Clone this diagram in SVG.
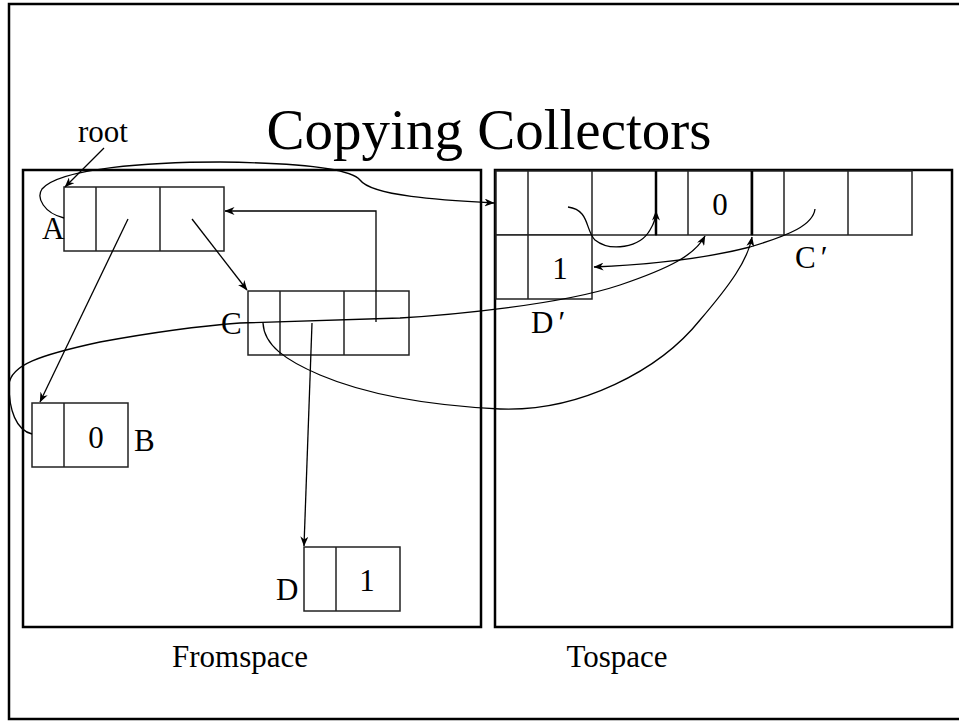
<svg xmlns="http://www.w3.org/2000/svg" width="959" height="721" viewBox="0 0 959 721">
<defs>
<marker id="ah" viewBox="0 0 10 8" refX="9.5" refY="4" markerWidth="10" markerHeight="8" markerUnits="userSpaceOnUse" orient="auto">
<path d="M0,0 L10,4 L0,8 L3,4 z" fill="#000"/>
</marker>
<style>
text{font-family:"Liberation Serif","Times New Roman",serif;fill:#000}
.lbl{font-size:31px}
.title{font-size:57px}
.cell{fill:#fff;stroke:#222;stroke-width:1.5}
.div{stroke:#222;stroke-width:1.5}
.space{fill:none;stroke:#000;stroke-width:2.5}
.con{fill:none;stroke:#000;stroke-width:1.3}
.arr{marker-end:url(#ah)}
</style>
</defs>
<rect x="0" y="0" width="959" height="721" fill="#fff"/>
<rect x="9" y="4" width="970" height="715" fill="none" stroke="#000" stroke-width="2.5"/>
<text class="title" x="489" y="149" text-anchor="middle">Copying Collectors</text>

<g id="fromspace">
<rect class="space" x="23" y="170" width="458" height="457"/>
<text class="lbl" x="240" y="667" text-anchor="middle">Fromspace</text>
</g>
<g id="tospace">
<rect class="space" x="495" y="170" width="457" height="457"/>
<text class="lbl" x="617" y="667" text-anchor="middle">Tospace</text>
</g>

<g id="nodeA">
<rect class="cell" x="64" y="187" width="160" height="64"/>
<line class="div" x1="96" y1="187" x2="96" y2="251"/>
<line class="div" x1="160" y1="187" x2="160" y2="251"/>
<text class="lbl" x="42" y="239">A</text>
</g>
<g id="nodeC">
<rect class="cell" x="248" y="291" width="161" height="64"/>
<line class="div" x1="280" y1="291" x2="280" y2="355"/>
<line class="div" x1="344" y1="291" x2="344" y2="355"/>
<text class="lbl" x="221" y="334">C</text>
</g>
<g id="nodeB">
<rect class="cell" x="32" y="403" width="96" height="64"/>
<line class="div" x1="64" y1="403" x2="64" y2="467"/>
<text class="lbl" x="96" y="448" text-anchor="middle">0</text>
<text class="lbl" x="134" y="451">B</text>
</g>
<g id="nodeD">
<rect class="cell" x="304" y="547" width="96" height="64"/>
<line class="div" x1="336" y1="547" x2="336" y2="611"/>
<text class="lbl" x="367" y="591" text-anchor="middle">1</text>
<text class="lbl" x="276" y="600">D</text>
</g>
<g id="root">
<text class="lbl" x="78" y="142">root</text>
</g>

<g id="nodeAprime">
<rect class="cell" x="496" y="171" width="160" height="64"/>
<line class="div" x1="528" y1="171" x2="528" y2="235"/>
<line class="div" x1="592" y1="171" x2="592" y2="235"/>
</g>
<g id="nodeBprime">
<rect class="cell" x="656" y="171" width="96" height="64"/>
<line class="div" x1="688" y1="171" x2="688" y2="235"/>
<line x1="656" y1="171" x2="656" y2="235" stroke="#000" stroke-width="2.5"/>
<line x1="752" y1="171" x2="752" y2="235" stroke="#000" stroke-width="2.5"/>
<text class="lbl" x="720" y="215" text-anchor="middle">0</text>
</g>
<g id="nodeCprime">
<rect class="cell" x="752" y="171" width="160" height="64"/>
<line class="div" x1="784" y1="171" x2="784" y2="235"/>
<line class="div" x1="848" y1="171" x2="848" y2="235"/>
<line x1="752" y1="171" x2="752" y2="235" stroke="#000" stroke-width="2.5"/>
<text class="lbl" x="795" y="268">C<tspan dx="5">′</tspan></text>
</g>
<g id="nodeDprime">
<rect class="cell" x="496" y="235" width="96" height="64"/>
<line class="div" x1="528" y1="235" x2="528" y2="299"/>
<text class="lbl" x="560" y="279" text-anchor="middle">1</text>
<text class="lbl" x="531" y="333">D<tspan dx="5">′</tspan></text>
</g>

<g id="connectors">
<line class="con arr" x1="104" y1="148" x2="65" y2="187"/>
<path class="con arr" d="M64,218 C44,213 36,198 42,189 C60,168 150,162 220,162 C300,163 350,168 360,180 C372,196 440,200 494,203"/>
<line class="con arr" x1="128" y1="219" x2="40" y2="402"/>
<line class="con arr" x1="192" y1="219" x2="247" y2="290"/>
<path class="con arr" d="M376,322 L376,211 L225,211"/>
<line class="con arr" x1="312" y1="323" x2="304" y2="546"/>
<path class="con arr" d="M32,434 C16,430 9,410 9,385 C10,365 40,355 100,342 C160,331 200,326 240,323 L400,318 C450,315 560,305 620,285 C670,268 695,255 705,236"/>
<path class="con arr" d="M263,323 C264,345 285,360 320,375 C360,392 420,405 500,409 C580,412 660,370 700,320 C730,285 748,260 752,237"/>
<path class="con arr" d="M568,207 C590,210 585,230 595,240 C610,252 640,248 650,230 C655,222 656,215 656,211"/>
<path class="con arr" d="M815,209 C813,225 790,235 750,247 C700,260 640,265 594,267"/>
</g>
</svg>
